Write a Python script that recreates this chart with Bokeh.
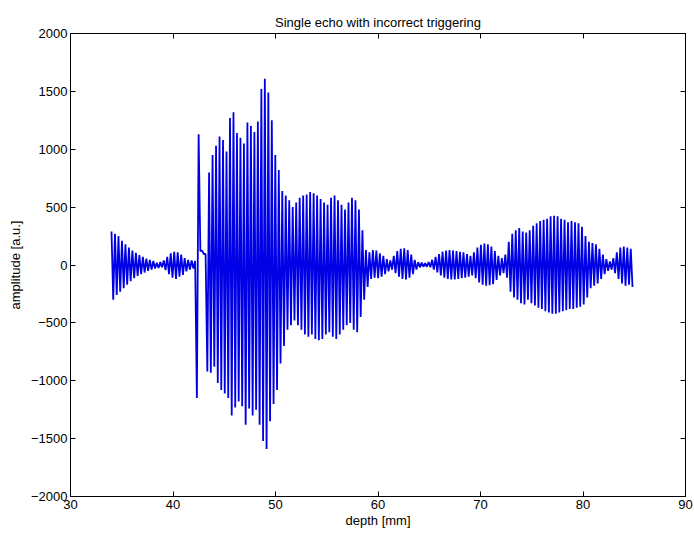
import numpy as np
from bokeh.plotting import figure
from bokeh.models import Range1d, LinearAxis, FixedTicker, CustomJSTickFormatter, ColumnDataSource
from bokeh.embed import file_html
from bokeh.resources import INLINE

# ---- data (one oscillation cycle per entry) ----
cycle_start = 34.0      # depth [mm] of first cycle
cycle_pitch = 0.34      # depth [mm] per cycle

cycle_peaks = [
    290, 270, 250, 210, 180, 150, 125, 105, 85, 70,
    55, 45, 35, 20, 25, 40, 70, 100, 115, 110,
    90, 60, 45, 40, 35, 1130, 125, 95,
    800, 950, 1030, 1110, 1080, 980, 1270, 1320, 1140, 1100,
    1050, 1230, 1200, 1150, 1240, 1520, 1610, 1490, 1250, 950,
    820, 640, 600, 560, 500, 540, 580, 600, 610, 630,
    620, 600, 570, 540, 520, 580, 600, 560, 520, 480,
    540, 580, 560, 480, 300, 130, 110, 130, 125, 100,
    80, 50, 40, 80, 120, 140, 145, 130, 90, 45,
    25, 20, 15, 25, 45, 70, 95, 115, 125, 130,
    125, 120, 115, 110, 95, 80, 110, 150, 175, 185,
    180, 160, 120, 80, 60, 90, 200, 270, 300, 320,
    290, 280, 300, 340, 360, 380, 390, 400, 420, 425,
    420, 400, 390, 370, 380, 370, 360, 330, 250, 200,
    190, 180, 140, 90, 50, 30, 60, 110, 150, 160,
    150, 140,
]
cycle_troughs = [
    -300, -260, -230, -200, -170, -140, -115, -95, -80, -65,
    -50, -40, -30, -25, -20, -45, -80, -110, -120, -100,
    -85, -55, -40, -30, -1150, 120, 95, -920,
    -930, -880, -1020, -1080, -1110, -1150, -1300, -1230, -1180, -1220,
    -1380, -1240, -1300, -1250, -1380, -1520, -1590, -1350, -1200, -1080,
    -850, -700, -560, -520, -480, -520, -560, -600, -620, -600,
    -640, -650, -640, -600, -580, -620, -640, -600, -560, -520,
    -500, -560, -580, -450, -300, -190, -120, -110, -115, -100,
    -80, -55, -40, -70, -100, -120, -125, -110, -80, -40,
    -20, -15, -15, -20, -40, -65, -90, -110, -120, -125,
    -125, -120, -115, -110, -100, -90, -115, -150, -170, -180,
    -175, -165, -130, -90, -70, -110, -230, -280, -300, -330,
    -340, -300, -330, -350, -370, -380, -400, -410, -420, -420,
    -410, -400, -390, -380, -380, -370, -360, -340, -280, -200,
    -180, -160, -120, -80, -50, -40, -70, -120, -160, -180,
    -170, -190,
]

x_ticks = [30, 40, 50, 60, 70, 80, 90]
y_ticks = [-2000, -1500, -1000, -500, 0, 500, 1000, 1500, 2000]

# build the zig-zag trace: peak then trough for each cycle
n = min(len(cycle_peaks), len(cycle_troughs))
idx = np.arange(n)
peak_depth = cycle_start + cycle_pitch * idx
trough_depth = peak_depth + cycle_pitch / 2
depth = np.empty(2 * n)
amp = np.empty(2 * n)
depth[0::2] = peak_depth
depth[1::2] = trough_depth
amp[0::2] = cycle_peaks[:n]
amp[1::2] = cycle_troughs[:n]
src = ColumnDataSource(dict(depth=depth, amp=amp))

FONT = "Liberation Sans"

p = figure(width=694, height=537, output_backend="svg", toolbar_location=None,
           x_range=Range1d(30, 90), y_range=Range1d(-2000, 2000),
           min_border_left=70, min_border_right=9, min_border_top=33, min_border_bottom=41)
p.title.text = "Single echo with incorrect triggering"
p.title.text_font = FONT
p.title.text_font_size = "13px"
p.title.text_font_style = "normal"
p.title.align = "center"
p.title.text_color = "#000000"
p.title.standoff = 8

p.line("depth", "amp", source=src, line_color="#0000e6", line_width=1.8)

p.xgrid.visible = False
p.ygrid.visible = False
p.outline_line_color = "black"
p.outline_line_width = 1
p.background_fill_color = "white"
p.border_fill_color = "white"

for ax, ticks in ((p.xaxis[0], x_ticks), (p.yaxis[0], y_ticks)):
    ax.ticker = FixedTicker(ticks=ticks)
    ax.minor_tick_line_color = None
    ax.major_tick_in = 5
    ax.major_tick_out = 0
    ax.axis_line_color = "black"
    ax.major_tick_line_color = "black"
    ax.major_label_text_font = FONT
    ax.major_label_text_font_size = "13px"
    ax.major_label_text_color = "black"
    ax.axis_label_text_font = FONT
    ax.axis_label_text_font_size = "13px"
    ax.axis_label_text_font_style = "normal"
    ax.axis_label_text_color = "black"
    ax.major_label_standoff = 3

p.xaxis[0].axis_label = "depth [mm]"
p.xaxis[0].axis_label_standoff = 1
p.yaxis[0].axis_label = "amplitude [a.u.]"
p.yaxis[0].axis_label_standoff = 5

blank = CustomJSTickFormatter(code="return '';")
top_ax = LinearAxis(ticker=FixedTicker(ticks=x_ticks), formatter=blank,
                    major_tick_in=5, major_tick_out=0, minor_tick_line_color=None,
                    axis_line_color="black", major_label_standoff=0)
right_ax = LinearAxis(ticker=FixedTicker(ticks=y_ticks), formatter=blank,
                      major_tick_in=5, major_tick_out=0, minor_tick_line_color=None,
                      axis_line_color="black", major_label_standoff=0)
p.add_layout(top_ax, "above")
p.add_layout(right_ax, "right")

open("out.html", "w").write(file_html(p, INLINE))
